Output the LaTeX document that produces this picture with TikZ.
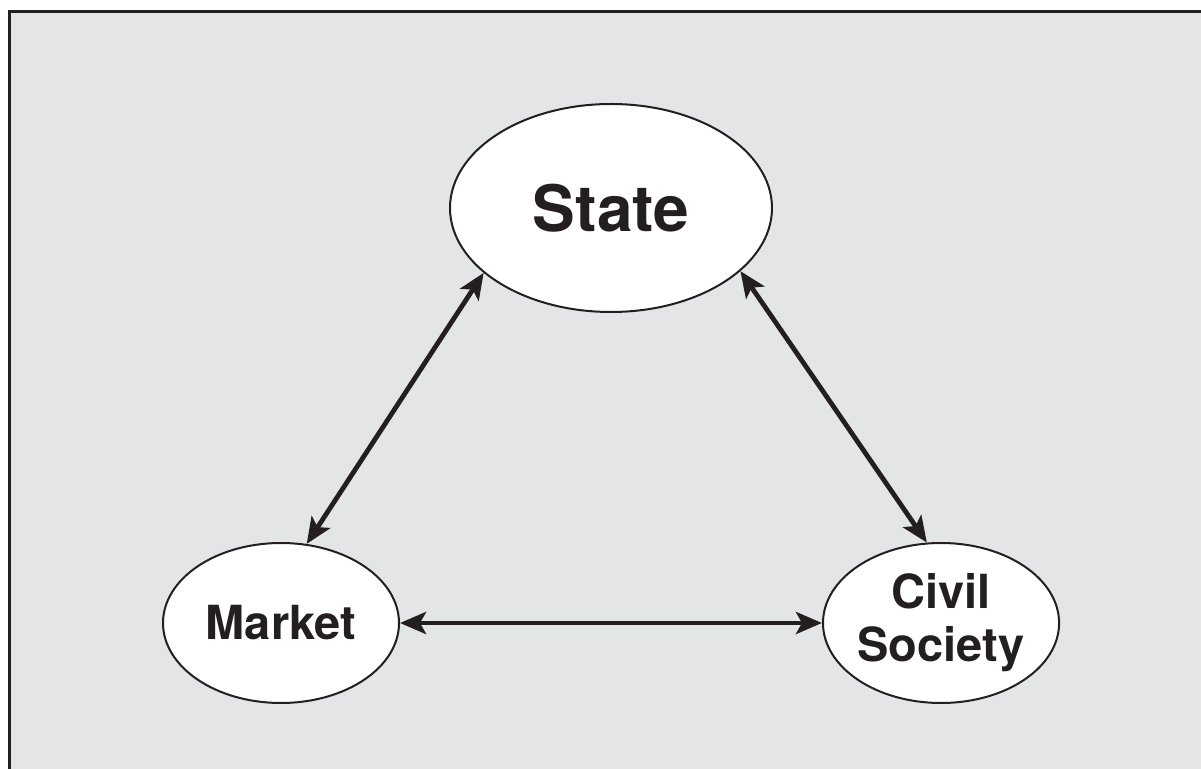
\documentclass[tikz,border=0pt]{standalone}
\usepackage{fontspec}
\setmainfont{TeX Gyre Heros}
\usetikzlibrary{shapes.geometric,arrows.meta,positioning}
\definecolor{panelgray}{HTML}{E4E5E7}
\definecolor{inkblack}{HTML}{231F20}
\begin{document}
\begin{tikzpicture}[x=0.5pt, y=-0.5pt, <->, >={Stealth[length=13pt,width=11pt,inset=3pt]}, line width=2.4pt, inkblack,
		sector/.style={ellipse, draw, line width=1pt, fill=white, inner sep=0pt, text=inkblack, font=\bfseries\fontsize{23.5}{26.5}\selectfont, align=center}]
			\useasboundingbox (0,0) rectangle (1201,769);
			\fill[white] (0,0) rectangle (1201,769);
			\fill[panelgray] (9,11) rectangle (1201,769);
			\draw[-, line width=1.5pt] (9.5,769) -- (9.5,11.5) -- (1201,11.5);
			\node [sector, minimum width=161pt, minimum height=104pt, font=\bfseries\fontsize{32}{36}\selectfont] (state) at (611,208) {State};
			\node [sector, minimum width=118pt, minimum height=80pt] (market) at (281,623) {Market};
			\node [sector, minimum width=117pt, minimum height=80pt] (civil) [right=211pt of market] {Civil\\Society};
			\path (market.72) edge (state.207) ;
			\path (civil.100) edge (state.334) ;
			\path (market) edge (civil) ;
		\end{tikzpicture}
\end{document}
